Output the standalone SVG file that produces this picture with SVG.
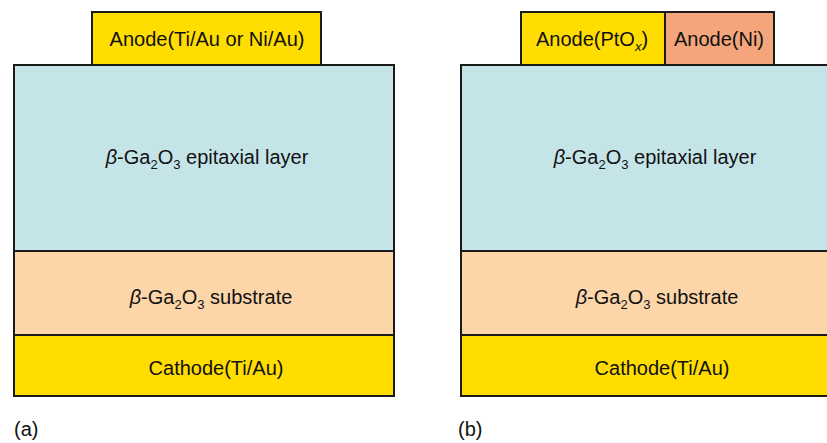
<svg xmlns="http://www.w3.org/2000/svg" width="827" height="443" viewBox="0 0 827 443">
<style>
rect{stroke:#1a1a1a;stroke-width:2}
text{font-family:"Liberation Sans",Arial,sans-serif;font-size:20px;fill:#111}
.c{text-anchor:middle}
.sub{font-size:13px}
.y{fill:#FFDD00}.e{fill:#C5E4E8}.s{fill:#FCD5A9}.n{fill:#F4A57B}
</style>
<g id="a-epi"><rect class="e" x="14" y="65" width="380" height="186"/>
<text class="c" x="207" y="164"><tspan font-style="italic">β</tspan>-Ga<tspan class="sub" dy="5">2</tspan><tspan dy="-5">O</tspan><tspan class="sub" dy="5">3</tspan><tspan dy="-5"> epitaxial layer</tspan></text></g>
<g id="a-sub"><rect class="s" x="14" y="251" width="380" height="84"/>
<text class="c" x="211" y="304"><tspan font-style="italic">β</tspan>-Ga<tspan class="sub" dy="5">2</tspan><tspan dy="-5">O</tspan><tspan class="sub" dy="5">3</tspan><tspan dy="-5"> substrate</tspan></text></g>
<g id="a-cath"><rect class="y" x="14" y="335" width="380" height="61"/>
<text class="c" x="216" y="375">Cathode(Ti/Au)</text></g>
<g id="a-anode"><rect class="y" x="92" y="12" width="229" height="53"/>
<text class="c" x="207" y="46">Anode(Ti/Au or Ni/Au)</text></g>
<text x="14" y="436">(a)</text>

<g id="b-epi"><rect class="e" x="461" y="65" width="380" height="186"/>
<text class="c" x="655" y="164"><tspan font-style="italic">β</tspan>-Ga<tspan class="sub" dy="5">2</tspan><tspan dy="-5">O</tspan><tspan class="sub" dy="5">3</tspan><tspan dy="-5"> epitaxial layer</tspan></text></g>
<g id="b-sub"><rect class="s" x="461" y="251" width="380" height="84"/>
<text class="c" x="657" y="304"><tspan font-style="italic">β</tspan>-Ga<tspan class="sub" dy="5">2</tspan><tspan dy="-5">O</tspan><tspan class="sub" dy="5">3</tspan><tspan dy="-5"> substrate</tspan></text></g>
<g id="b-cath"><rect class="y" x="461" y="335" width="380" height="61"/>
<text class="c" x="662" y="375">Cathode(Ti/Au)</text></g>
<g id="b-anode-pt"><rect class="y" x="521" y="12" width="144" height="53"/>
<text class="c" x="592" y="46">Anode(PtO<tspan class="sub" font-style="italic" dy="5">x</tspan><tspan dy="-5">)</tspan></text></g>
<g id="b-anode-ni"><rect class="n" x="665" y="12" width="109" height="53"/>
<text class="c" x="719" y="46">Anode(Ni)</text></g>
<text x="458" y="436">(b)</text>
</svg>
